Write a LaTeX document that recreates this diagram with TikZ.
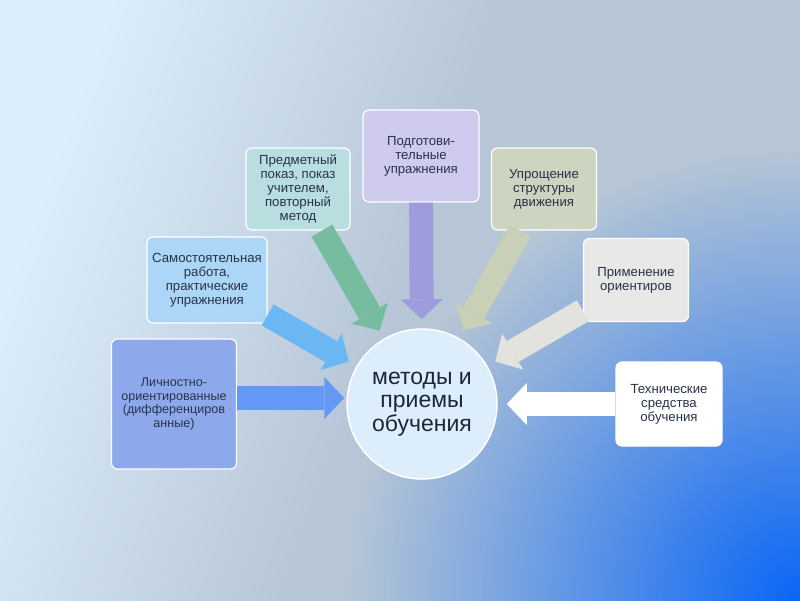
\documentclass[tikz,border=0pt]{standalone}
\usepackage{fontspec}
\setmainfont{Liberation Sans}
\usetikzlibrary{arrows.meta,fadings}

\definecolor{bglight}{HTML}{DCEDFC}
\definecolor{bggrey}{HTML}{B6C6D6}
\definecolor{bgblue}{HTML}{0A66F6}
\definecolor{box1}{HTML}{8DA9EB}
\definecolor{box2}{HTML}{ABD6F7}
\definecolor{box3}{HTML}{B8DEE0}
\definecolor{box4}{HTML}{CFCBEF}
\definecolor{box5}{HTML}{CDD4BF}
\definecolor{box6}{HTML}{E8E8E6}
\definecolor{box7}{HTML}{FFFFFF}
\definecolor{arr1}{HTML}{6597F4}
\definecolor{arr2}{HTML}{6BB7F3}
\definecolor{arr3}{HTML}{78BC9F}
\definecolor{arr4}{HTML}{9E9CDD}
\definecolor{arr5}{HTML}{C9D0B8}
\definecolor{arr6}{HTML}{E2E2DE}
\definecolor{arr7}{HTML}{FFFFFF}
\definecolor{core}{HTML}{DCEEFC}
\definecolor{coretext}{HTML}{1E2535}
\definecolor{itemtext}{HTML}{28324A}

\tikzfading[name=glow, inner color=transparent!0, outer color=transparent!100]

\begin{document}
\begin{tikzpicture}[x=1pt,y=-1pt]
  \tikzstyle{item}=[rectangle,rounded corners=6pt,draw=white,line width=1.2pt,align=center,text=itemtext,font=\fontsize{13.2}{14}\selectfont,inner sep=2pt]
  \tikzstyle{flow}=[line width=24pt,-{Triangle[length=20pt,width=42pt,line width=0pt]},shorten >=9pt]
  \useasboundingbox (0,0) rectangle (800,600);
  % background
  \fill[left color=bglight,right color=bggrey,middle color=bggrey,shading angle=70] (0,0) rectangle (800,600);
  \begin{scope}
    \clip (0,0) rectangle (800,600);
    \fill[bgblue,path fading=glow] (800,600) circle (450);
  \end{scope}
  % boxes
  \node[item,fill=box1,minimum width=125pt,minimum height=130pt,font=\fontsize{12.6}{13.4}\selectfont] (B1) at (174,404) {Личностно-\\ориентированные\\(дифференциров\\анные)};
  \node[item,fill=box2,minimum width=120pt,minimum height=86pt] (B2) at (207,280) {Самостоятельная\\работа,\\практические\\упражнения};
  \node[item,fill=box3,minimum width=104pt,minimum height=82pt] (B3) at (298,189) {Предметный\\показ, показ\\учителем,\\повторный\\метод};
  \node[item,fill=box4,minimum width=116pt,minimum height=92pt] (B4) at (421,156) {Подготови-\\тельные\\упражнения};
  \node[item,fill=box5,minimum width=105pt,minimum height=82pt] (B5) at (544,189) {Упрощение\\структуры\\движения};
  \node[item,fill=box6,minimum width=105pt,minimum height=83pt] (B6) at (636,280) {Применение\\ориентиров};
  \node[item,fill=box7,minimum width=106pt,minimum height=84pt] (B7) at (669,404) {Технические\\средства\\обучения};
  \node[circle,fill=core,draw=white,line width=1.5pt,minimum size=150pt,align=center,text=coretext,font=\fontsize{23}{23.5}\selectfont] (C) at (422,404) {методы и\\приемы\\обучения};
  % arrows
  \draw[flow,draw=arr1,shorten >=2pt] ([yshift=6pt]B1.east) -- ([yshift=6pt]C.west);
  \draw[flow,draw=arr2] (B2) -- (C);
  \draw[flow,draw=arr3] (B3) -- (C);
  \draw[flow,draw=arr4] (B4) -- (C);
  \draw[flow,draw=arr5] (B5) -- (C);
  \draw[flow,draw=arr6] (B6) -- (C);
  \draw[flow,draw=arr7] (B7) -- (C);
\end{tikzpicture}
\end{document}
